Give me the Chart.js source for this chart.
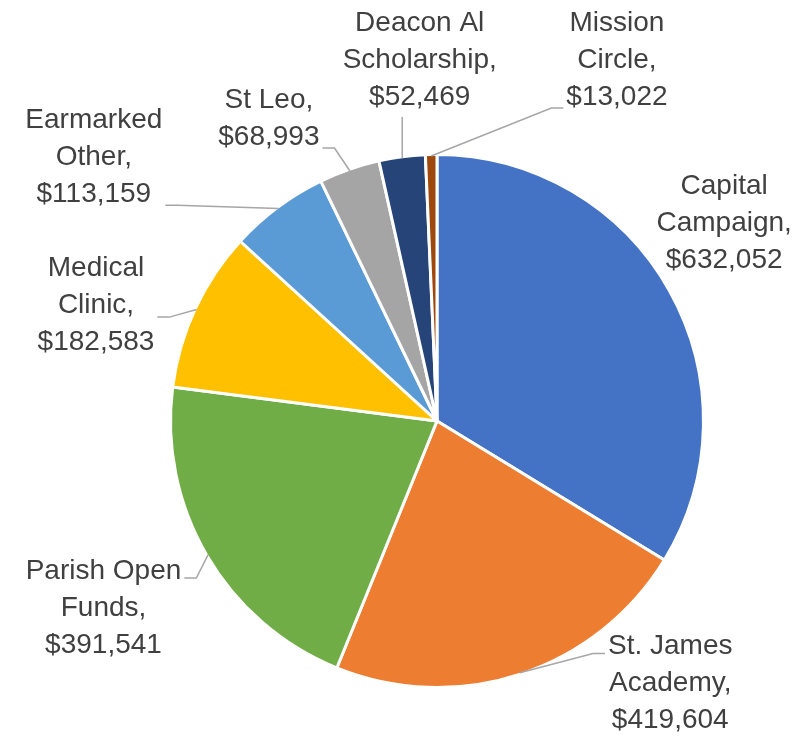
<!DOCTYPE html>
<html>
<head>
<meta charset="utf-8">
<script src="https://cdn.jsdelivr.net/npm/chart.js@4/dist/chart.umd.min.js"></script>
<style>
  body { margin: 0; background: #fff; }
</style>
</head>
<body>
<canvas id="pie-chart" width="808" height="740"></canvas>
<script>
const categories = ['Capital Campaign', 'St. James Academy', 'Parish Open Funds', 'Medical Clinic',
  'Earmarked Other', 'St Leo', 'Deacon Al Scholarship', 'Mission Circle'];
const amounts = [632052, 419604, 391541, 182583, 113159, 68993, 52469, 13022];
// how each label is wrapped, like the original
const labelLines = [
  ['Capital', 'Campaign,'],
  ['St. James', 'Academy,'],
  ['Parish Open', 'Funds,'],
  ['Medical', 'Clinic,'],
  ['Earmarked', 'Other,'],
  ['St Leo,'],
  ['Deacon Al', 'Scholarship,'],
  ['Mission', 'Circle,']
];
const colors = ['#4472C4', '#ED7D31', '#70AD47', '#FFC000', '#5B9BD5', '#A5A5A5', '#264478', '#9E480E'];

// label placement: angle shift from slice middle (deg) and distance in radii
const labelShift = [-5.3, -23.4, 1.0, -6.1, -15.75, -9.85, 4.8, 27.75];
const labelDist = [1.316, 1.325, 1.443, 1.359, 1.633, 1.306, 1.364, 1.522];

const money = v => '$' + v.toLocaleString('en-US');

const outsideLabels = {
  id: 'outsideLabels',
  afterDatasetsDraw(chart) {
    const ctx = chart.ctx;
    const meta = chart.getDatasetMeta(0);
    const lineH = 37;
    ctx.save();
    ctx.font = '28px "Liberation Sans", Arial, sans-serif';
    ctx.textAlign = 'center';
    ctx.textBaseline = 'middle';
    meta.data.forEach((arc, i) => {
      const { x, y, startAngle, endAngle, outerRadius } = arc.getProps(['x', 'y', 'startAngle', 'endAngle', 'outerRadius'], true);
      const mid = (startAngle + endAngle) / 2;
      const R = outerRadius - 1.5;
      const a = mid + labelShift[i] * Math.PI / 180;
      const cx = x + Math.cos(a) * R * labelDist[i];
      const cy = y + Math.sin(a) * R * labelDist[i];
      const lines = labelLines[i].concat([money(amounts[i])]);
      const top = cy - (lines.length - 1) * lineH / 2;
      const bottom = top + (lines.length - 1) * lineH;
      let maxW = 0;
      lines.forEach(t => { maxW = Math.max(maxW, ctx.measureText(t).width); });

      // leader line, hooked to the top, middle or bottom of the label
      const ax = x + Math.cos(mid) * R;
      const ay = y + Math.sin(mid) * R;
      const x0 = cx - maxW / 2, x1 = cx + maxW / 2;
      const hooks = [top + 7, cy + 12, bottom + 11];
      const py = hooks.reduce((b, h) => Math.abs(h - ay) < Math.abs(b - ay) ? h : b);
      let pts = null;
      if (ax < x0 - 4) {
        pts = [[x0 - 3, py], [x0 - 15, py], [ax, ay]];
      } else if (ax > x1 + 4) {
        pts = [[x1 + 3, py], [x1 + 15, py], [ax, ay]];
      } else {
        const vy = ay > bottom ? bottom + 20 : top - 30;
        if (Math.abs(ay - vy) > 20) pts = [[ax, vy], [ax, ay]];
      }
      if (pts) {
        ctx.strokeStyle = '#A6A6A6';
        ctx.lineWidth = 1.5;
        ctx.beginPath();
        pts.forEach((p, k) => k ? ctx.lineTo(p[0], p[1]) : ctx.moveTo(p[0], p[1]));
        ctx.stroke();
      }

      ctx.fillStyle = '#404040';
      lines.forEach((t, k) => ctx.fillText(t, cx, top + k * lineH));
    });
    ctx.restore();
  }
};

new Chart(document.getElementById('pie-chart'), {
  type: 'pie',
  data: {
    labels: categories,
    datasets: [{
      data: amounts,
      backgroundColor: colors,
      borderColor: '#ffffff',
      borderWidth: 3
    }]
  },
  options: {
    responsive: false,
    animation: false,
    layout: { padding: { top: 153, bottom: 51, left: 169, right: 103 } },
    plugins: {
      legend: { display: false },
      tooltip: { enabled: false }
    }
  },
  plugins: [outsideLabels]
});
</script>
</body>
</html>
